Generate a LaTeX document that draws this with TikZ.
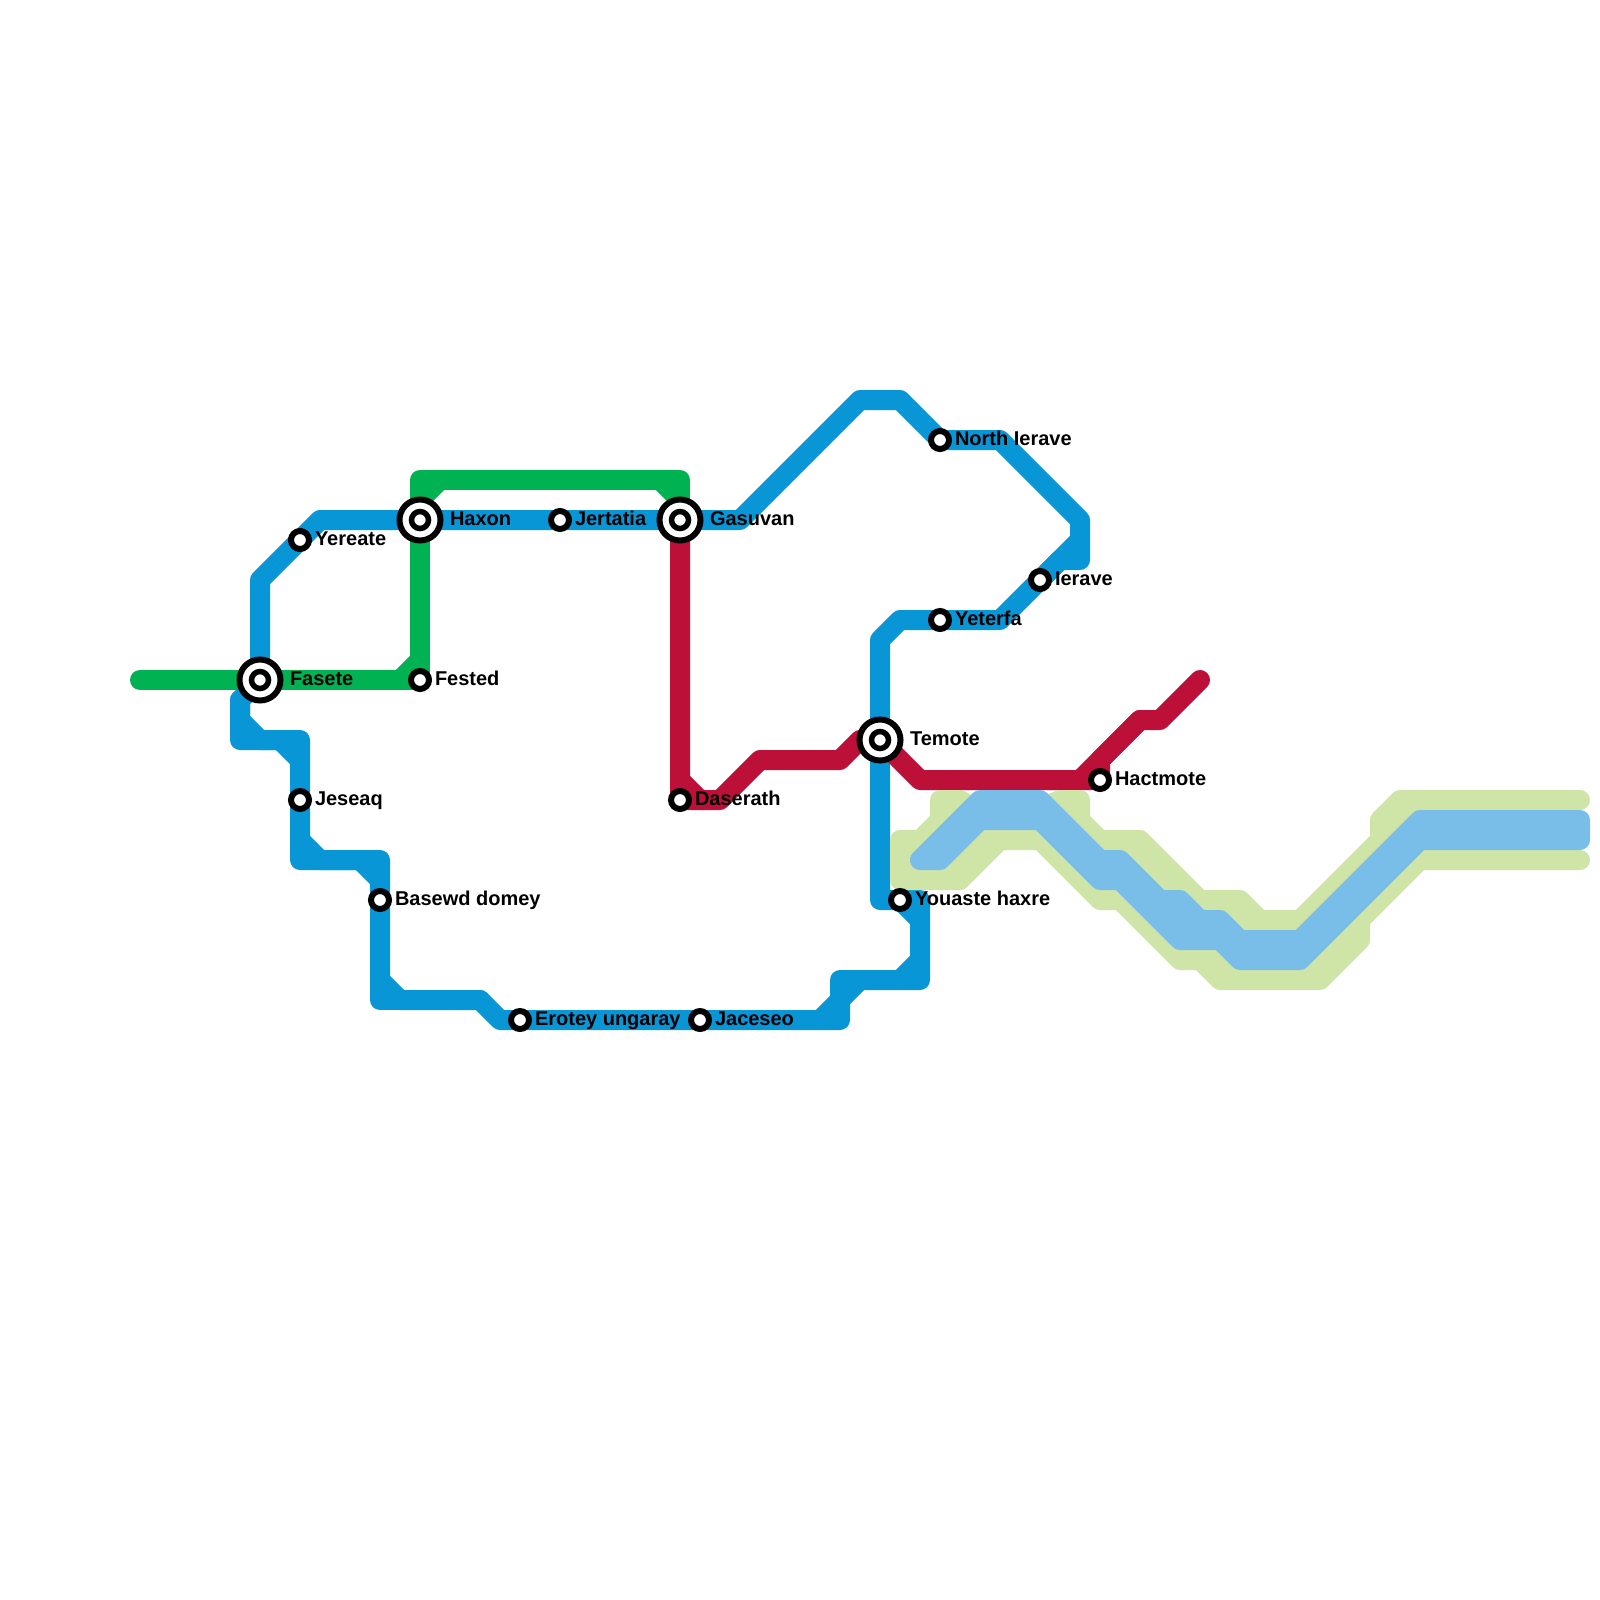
\documentclass[tikz,border=0pt]{standalone}
\usepackage{fontspec}
\setmainfont{Liberation Sans}
\definecolor{lblue}{HTML}{0896D7}
\definecolor{lgreen}{HTML}{00B251}
\definecolor{lred}{HTML}{BD1038}
\definecolor{lpale}{HTML}{CFE4A7}
\definecolor{lsky}{HTML}{79BDE9}
\tikzset{
  metro/.style={line width=20pt,line join=round,line cap=round},
  stop/.style={circle,draw=black,fill=white,line width=6pt,minimum size=18pt,inner sep=0pt,outer sep=0pt},
  hub/.style={circle,draw=black,fill=white,line width=6pt,minimum size=41pt,inner sep=0pt,outer sep=0pt,
    path picture={\draw[black,line width=5.5pt] (path picture bounding box.center) circle (8.5pt);}},
  lbl/.style={anchor=base west,inner sep=0pt,outer sep=0pt,font=\fontsize{20}{24}\selectfont\bfseries,text=black}
}
\begin{document}
\begin{tikzpicture}[x=1pt,y=-1pt]
\useasboundingbox (0,0) rectangle (1600,1600);
\fill[white] (0,0) rectangle (1600,1600);
% station positions
\coordinate (pFasete) at (260,680);
\coordinate (pFested) at (420,680);
\coordinate (pYereate) at (300,540);
\coordinate (pHaxon) at (420,520);
\coordinate (pJertatia) at (560,520);
\coordinate (pGasuvan) at (680,520);
\coordinate (pDaserath) at (680,800);
\coordinate (pTemote) at (880,740);
\coordinate (pJeseaq) at (300,800);
\coordinate (pBasewd) at (380,900);
\coordinate (pErotey) at (520,1020);
\coordinate (pJaceseo) at (700,1020);
\coordinate (pYouaste) at (900,900);
\coordinate (pYeterfa) at (940,620);
\coordinate (pIerave) at (1040,580);
\coordinate (pNorth) at (940,440);
\coordinate (pHactmote) at (1100,780);
% blue line
\draw[metro,lblue] (pFasete) -- (240,700) -- (240,720) -- (260,740) -- (300,740) -- (pJeseaq) -- (300,840) -- (320,860) -- (380,860) -- (pBasewd) -- (380,980) -- (400,1000) -- (480,1000) -- (500,1020) -- (pErotey) -- (pJaceseo) -- (840,1020) -- (840,980) -- (920,980) -- (920,900) -- (pYouaste) -- (880,900) -- (pTemote) -- (880,640) -- (900,620) -- (pYeterfa) -- (1000,620) -- (pIerave) -- (1060,560) -- (1080,560) -- (1080,520) -- (1000,440) -- (pNorth) -- (900,400) -- (860,400) -- (740,520) -- (pGasuvan) -- (pJertatia) -- (pHaxon) -- (320,520) -- (pYereate) -- (260,580) -- (pFasete);
\draw[metro,lblue] (240,700) -- (240,740) -- (280,740) -- (300,760);
\draw[metro,lblue] (300,840) -- (300,860) -- (360,860) -- (380,880);
\draw[metro,lblue] (380,980) -- (380,1000) -- (480,1000);
\draw[metro,lblue] (860,980) -- (840,1000) -- (820,1020);
\draw[metro,lblue] (920,960) -- (900,980);
\draw[metro,lblue] (pYouaste) -- (920,920);
\draw[metro,lblue] (1080,540) -- (pIerave);
% green line
\draw[metro,lgreen] (140,680) -- (pFasete) -- (pFested) -- (pHaxon) -- (420,480) -- (680,480) -- (pGasuvan);
\draw[metro,lgreen] (400,680) -- (420,660);
\draw[metro,lgreen] (pHaxon) -- (420,500) -- (440,480);
\draw[metro,lgreen] (660,480) -- (680,500);
% red line
\draw[metro,lred] (pGasuvan) -- (pDaserath) -- (720,800) -- (760,760) -- (840,760) -- (860,740) -- (pTemote) -- (920,780) -- (pHactmote) -- (1100,760) -- (1140,720) -- (1160,720) -- (1200,680);
\draw[metro,lred] (680,780) -- (700,800);
\draw[metro,lred] (1080,780) -- (1140,720);
% pale band
\path[metro,draw=lpale,fill=lpale] (1580,800) -- (1400,800) -- (1380,820) -- (1380,840) -- (1300,920) -- (1260,920) -- (1240,900) -- (1200,900) -- (1140,840) -- (1100,840) -- (1080,820) -- (1080,800) -- (1060,800) -- (1000,825) -- (960,800) -- (940,800) -- (940,820) -- (920,840) -- (900,840) -- (900,880) -- (960,880) -- (1000,840) -- (1040,840) -- (1100,900) -- (1120,900) -- (1180,960) -- (1200,960) -- (1220,980) -- (1320,980) -- (1360,940) -- (1360,920) -- (1420,860) -- (1580,860);
% sky band
\path[metro,draw=lsky,fill=lsky] (1580,820) -- (1420,820) -- (1300,940) -- (1240,940) -- (1220,920) -- (1200,920) -- (1180,900) -- (1160,900) -- (1120,860) -- (1100,860) -- (1040,800) -- (980,800) -- (920,860) -- (940,860) -- (980,820) -- (1040,820) -- (1100,880) -- (1120,880) -- (1180,940) -- (1220,940) -- (1240,960) -- (1300,960) -- (1420,840) -- (1580,840) -- cycle;
% stations
\node[hub] (Fasete) at (pFasete) {};
\node[hub] (Haxon) at (pHaxon) {};
\node[hub] (Gasuvan) at (pGasuvan) {};
\node[hub] (Temote) at (pTemote) {};
\node[stop] (Fested) at (pFested) {};
\node[stop] (Yereate) at (pYereate) {};
\node[stop] (Jertatia) at (pJertatia) {};
\node[stop] (Daserath) at (pDaserath) {};
\node[stop] (Jeseaq) at (pJeseaq) {};
\node[stop] (Basewd) at (pBasewd) {};
\node[stop] (Erotey) at (pErotey) {};
\node[stop] (Jaceseo) at (pJaceseo) {};
\node[stop] (Youaste) at (pYouaste) {};
\node[stop] (Yeterfa) at (pYeterfa) {};
\node[stop] (Ierave) at (pIerave) {};
\node[stop] (North) at (pNorth) {};
\node[stop] (Hactmote) at (pHactmote) {};
% labels
\node[lbl] (tFasete) at (290,685) {Fasete};
\node[lbl] (tHaxon) at (450,525) {Haxon};
\node[lbl] (tGasuvan) at (710,525) {Gasuvan};
\node[lbl] (tTemote) at (910,745) {Temote};
\node[lbl] (tFested) at (435,685) {Fested};
\node[lbl] (tYereate) at (315,545) {Yereate};
\node[lbl] (tJertatia) at (575,525) {Jertatia};
\node[lbl] (tDaserath) at (695,805) {Daserath};
\node[lbl] (tJeseaq) at (315,805) {Jeseaq};
\node[lbl] (tBasewd) at (395,905) {Basewd domey};
\node[lbl] (tErotey) at (535,1025) {Erotey ungaray};
\node[lbl] (tJaceseo) at (715,1025) {Jaceseo};
\node[lbl] (tYouaste) at (915,905) {Youaste haxre};
\node[lbl] (tYeterfa) at (955,625) {Yeterfa};
\node[lbl] (tIerave) at (1055,585) {Ierave};
\node[lbl] (tNorth) at (955,445) {North Ierave};
\node[lbl] (tHactmote) at (1115,785) {Hactmote};
\end{tikzpicture}
\end{document}
